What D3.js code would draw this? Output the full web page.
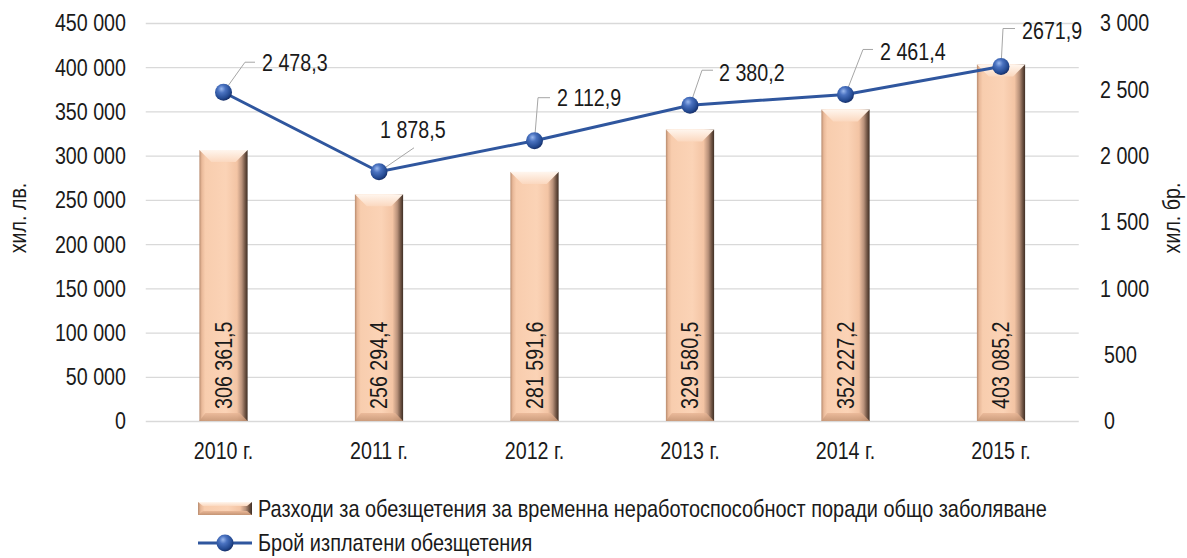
<!DOCTYPE html>
<html><head><meta charset="utf-8">
<script src="https://cdn.jsdelivr.net/npm/d3@7"></script>
<style>
html,body{margin:0;padding:0;background:#fff;}
svg text{font-family:"Liberation Sans","Arial",sans-serif;fill:#1a1a1a;}
</style></head>
<body>
<svg id="chart" width="1187" height="558"></svg>
<script>
const categories = ["2010 г.","2011 г.","2012 г.","2013 г.","2014 г.","2015 г."];
const expenses = [306361.5, 256294.4, 281591.6, 329580.5, 352227.2, 403085.2];
const expenseLabels = ["306 361,5","256 294,4","281 591,6","329 580,5","352 227,2","403 085,2"];
const counts = [2478.3, 1878.5, 2112.9, 2380.2, 2461.4, 2671.9];
const countLabels = ["2 478,3","1 878,5","2 112,9","2 380,2","2 461,4","2671,9"];
const leftTicks = [0,50000,100000,150000,200000,250000,300000,350000,400000,450000];
const rightTicks = [0,500,1000,1500,2000,2500,3000];
const seriesNames = ["Разходи за обезщетения за временна неработоспособност поради общо заболяване","Брой изплатени обезщетения"];
const axisTitles = ["хил. лв.","хил. бр."];

// layout (label offsets from point: leader path and text position)
const labelLayout = [
  {leader:[[21.5,-30],[31.5,-30]], text:[38.5,-30]},
  {leader:[[35,-24]], text:[1,-42]},
  {leader:[[3.5,-43],[15.5,-43]], text:[22.5,-43]},
  {leader:[[12,-35],[23,-35]], text:[29,-33]},
  {leader:[[17.5,-45],[27.5,-45]], text:[34.5,-43]},
  {leader:[[2,-38],[14,-38]], text:[21,-36]}
];

const SX = 0.82, FS = 24;
const fmt = n => String(n).replace(/\B(?=(\d{3})+(?!\d))/g, "\u00a0");

const svg = d3.select("#chart");
const L = 145.75, R = 1078.75, T = 23, B = 421;
const x = d3.scaleBand().domain(categories).range([L, R]).paddingInner(0.69).paddingOuter(0.345);
const yL = d3.scaleLinear().domain([0,450000]).range([B,T]);
const yR = d3.scaleLinear().domain([0,3000]).range([B,T]);

// condensed text helper
function ctext(parent, tx, ty, str, anchor, rot, sx){
  return parent.append("text")
    .attr("transform", `translate(${tx},${ty})` + (rot ? ` rotate(${rot})` : "") + ` scale(${sx||SX},1)`)
    .attr("text-anchor", anchor || "start").attr("dy","0.35em").attr("font-size",FS).text(str);
}

const defs = svg.append("defs");
const bg = defs.append("linearGradient").attr("id","barH").attr("x1","0").attr("x2","1").attr("y1","0").attr("y2","0");
[[0,"#b88b6e"],[0.05,"#e9b999"],[0.12,"#f8cdae"],[0.55,"#fbd3b6"],[0.78,"#f3c4a4"],[0.88,"#b8917a"],[0.95,"#6e5343"],[1,"#3f2e24"]]
  .forEach(s=>bg.append("stop").attr("offset",s[0]).attr("stop-color",s[1]));
const tg = defs.append("linearGradient").attr("id","barTop").attr("x1","0").attr("x2","0").attr("y1","0").attr("y2","1");
[[0,"#fff6ee"],[1,"#fbd8bf"]].forEach(s=>tg.append("stop").attr("offset",s[0]).attr("stop-color",s[1]));
const botg = defs.append("linearGradient").attr("id","barBot").attr("x1","0").attr("x2","0").attr("y1","0").attr("y2","1");
[[0,"#e9b797"],[1,"#c49474"]].forEach(s=>botg.append("stop").attr("offset",s[0]).attr("stop-color",s[1]));
const mg = defs.append("radialGradient").attr("id","ball").attr("cx","0.4").attr("cy","0.35").attr("r","0.65").attr("fx","0.38").attr("fy","0.3");
[[0,"#9ab8ee"],[0.35,"#4a72c0"],[0.8,"#244a92"],[1,"#17306a"]].forEach(s=>mg.append("stop").attr("offset",s[0]).attr("stop-color",s[1]));

// gridlines
svg.append("g").selectAll("line").data(leftTicks).join("line")
  .attr("x1",L).attr("x2",R).attr("y1",d=>yL(d)+0.5).attr("y2",d=>yL(d)+0.5)
  .attr("stroke","#d9d9d9").attr("stroke-width",1.3);

// axis labels
const gl = svg.append("g");
leftTicks.forEach(d=>ctext(gl, 126, yL(d), fmt(d), "end"));
const gr = svg.append("g");
rightTicks.forEach(d=>ctext(gr, d<1000 ? 1104 : 1100, yR(d), fmt(d), "start"));
ctext(svg, 18, 218, axisTitles[0], "middle", -90);
ctext(svg, 1172, 218, axisTitles[1], "middle", -90);

// x labels
const gx = svg.append("g");
categories.forEach(c=>ctext(gx, x(c)+x.bandwidth()/2, 451, c, "middle"));

function bevelBar(g, bx, by, w, h){
  const bt = Math.min(12,h/2), bs = 4, br = 6, bb = 8;
  g.append("rect").attr("x",bx).attr("y",by).attr("width",w).attr("height",h).attr("fill","url(#barH)");
  g.append("polygon").attr("points",[[bx,by],[bx+w,by],[bx+w-12,by+bt],[bx+12,by+bt]].join(" ")).attr("fill","url(#barTop)");
  g.append("polygon").attr("points",[[bx,by+h],[bx+bs+2,by+h-bb],[bx+w-br-2,by+h-bb],[bx+w,by+h]].join(" ")).attr("fill","url(#barBot)").attr("opacity",0.85);
}

const bars = svg.append("g");
categories.forEach((c,i)=>{
  const bx = x(c), w = x.bandwidth(), by = yL(expenses[i]), h = B - by;
  bevelBar(bars.append("g"), bx, by, w, h);
});
// bar labels
const gbl = svg.append("g");
categories.forEach((c,i)=>ctext(gbl, x(c)+x.bandwidth()/2, B-12, expenseLabels[i], "start", -90));

// line
const cx = i => x(categories[i]) + x.bandwidth()/2;
const line = d3.line().x((d,i)=>cx(i)).y(d=>yR(d));
const lg = svg.append("g");
counts.forEach((v,i)=>{
  const px = cx(i), py = yR(v);
  const pts = [[px,py]].concat(labelLayout[i].leader.map(p=>[px+p[0],py+p[1]]));
  lg.append("polyline").attr("points",pts.join(" ")).attr("fill","none").attr("stroke","#a6a6a6").attr("stroke-width",1);
});
svg.append("path").datum(counts).attr("d",line).attr("fill","none").attr("stroke","#2f569e").attr("stroke-width",3);
svg.append("g").selectAll("circle").data(counts).join("circle")
  .attr("cx",(d,i)=>cx(i)).attr("cy",d=>yR(d)).attr("r",8.5).attr("fill","url(#ball)");
const gcl = svg.append("g");
counts.forEach((v,i)=>ctext(gcl, cx(i)+labelLayout[i].text[0], yR(v)+labelLayout[i].text[1], countLabels[i], "start"));

// legend
const lgd = svg.append("g");
(function(g,bx,by,w,h){
  g.append("rect").attr("x",bx).attr("y",by).attr("width",w).attr("height",h).attr("fill","url(#barH)");
  g.append("polygon").attr("points",[[bx,by],[bx+w,by],[bx+w-5,by+4],[bx+5,by+4]].join(" ")).attr("fill","url(#barTop)");
  g.append("polygon").attr("points",[[bx,by+h],[bx+5,by+h-4],[bx+w-5,by+h-4],[bx+w,by+h]].join(" ")).attr("fill","url(#barBot)");
})(lgd.append("g"), 198, 502, 54, 13);
ctext(lgd, 258, 509, seriesNames[0], "start", 0, 0.83);
lgd.append("line").attr("x1",198).attr("x2",252).attr("y1",543).attr("y2",543).attr("stroke","#2f569e").attr("stroke-width",3);
lgd.append("circle").attr("cx",225).attr("cy",543).attr("r",8.5).attr("fill","url(#ball)");
ctext(lgd, 258, 543, seriesNames[1], "start", 0, 0.83);
</script>
</body></html>
